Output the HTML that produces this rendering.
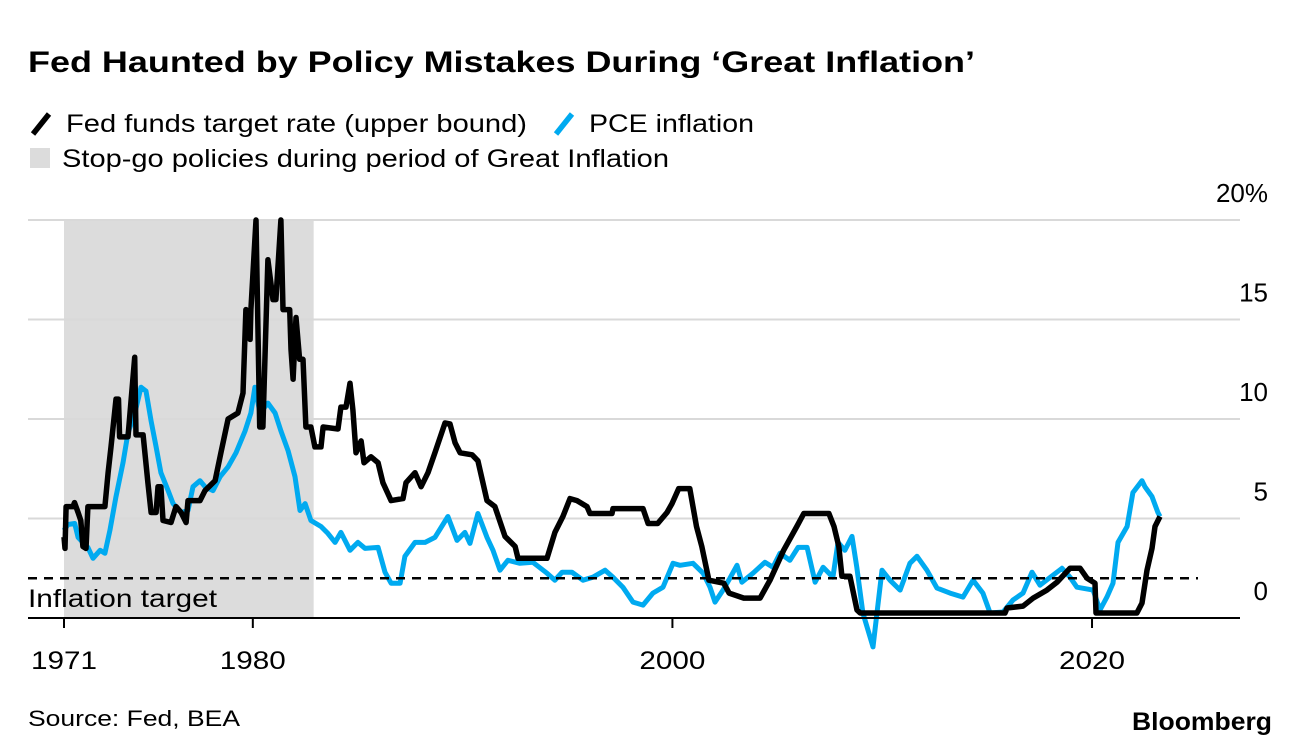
<!DOCTYPE html>
<html><head><meta charset="utf-8"><style>
body{margin:0;background:#fff;width:1296px;height:754px;overflow:hidden;font-family:"Liberation Sans",sans-serif;}
svg{position:absolute;left:0;top:0}
</style></head><body>
<svg width="1296" height="754">
<text x="28" y="72" font-size="30" font-weight="bold" fill="#000" textLength="947" lengthAdjust="spacingAndGlyphs">Fed Haunted by Policy Mistakes During ‘Great Inflation’</text>
<g><line x1="33" y1="134" x2="49" y2="114" stroke="#000" stroke-width="5.5"/><text x="66" y="132" font-size="25" textLength="461" lengthAdjust="spacingAndGlyphs">Fed funds target rate (upper bound)</text></g>
<g><line x1="556" y1="134" x2="572" y2="114" stroke="#00aaf0" stroke-width="5.5"/><text x="589" y="132" font-size="25" textLength="165" lengthAdjust="spacingAndGlyphs">PCE inflation</text></g>
<g><rect x="30" y="148" width="20" height="20" fill="#dcdcdc"/><text x="62" y="167" font-size="25" textLength="607" lengthAdjust="spacingAndGlyphs">Stop-go policies during period of Great Inflation</text></g>
<g id="plot"></g>
<text x="28" y="726" font-size="22" textLength="212" lengthAdjust="spacingAndGlyphs">Source: Fed, BEA</text>
<text x="1132" y="730" font-size="25" font-weight="bold" textLength="140" lengthAdjust="spacingAndGlyphs">Bloomberg</text>
</svg>
<script>
const fedYears=[1971.0,1971.05,1971.1,1971.43,1971.5,1971.67,1971.8,1971.9,1972.05,1972.14,1972.95,1973.1,1973.24,1973.48,1973.6,1973.65,1974.05,1974.37,1974.43,1974.77,1975.0,1975.15,1975.39,1975.48,1975.62,1975.72,1976.1,1976.34,1976.58,1976.82,1976.91,1977.48,1977.72,1978.2,1978.48,1978.82,1979.29,1979.53,1979.67,1979.87,1979.91,1980.15,1980.33,1980.48,1980.72,1980.96,1981.1,1981.34,1981.44,1981.76,1981.82,1981.92,1982.06,1982.23,1982.39,1982.53,1982.77,1982.96,1983.25,1983.35,1984.06,1984.2,1984.44,1984.63,1984.77,1984.92,1985.16,1985.3,1985.63,1985.97,1986.2,1986.59,1987.16,1987.3,1987.73,1988.02,1988.35,1988.68,1989.16,1989.4,1989.64,1989.88,1990.45,1990.73,1991.16,1991.54,1992.02,1992.5,1992.64,1994.02,1994.4,1994.78,1995.12,1995.45,1995.93,1996.07,1997.12,1997.17,1998.6,1998.84,1999.3,1999.74,1999.98,2000.3,2000.83,2001.15,2001.4,2001.74,2002.45,2002.7,2003.4,2004.18,2004.65,2005.3,2005.93,2006.26,2007.46,2007.7,2007.93,2008.08,2008.46,2008.8,2008.95,2015.85,2015.95,2016.71,2017.19,2017.85,2018.33,2018.95,2019.43,2019.76,2020.14,2020.19,2022.14,2022.38,2022.62,2022.86,2023.0,2023.24];
const fedValues=[4.07,3.5,5.6,5.6,5.8,5.3,4.9,3.6,3.5,5.6,5.6,7.3,8.6,11.0,11.0,9.1,9.1,13.1,9.2,9.2,6.8,5.3,5.3,6.6,6.6,4.9,4.8,5.6,5.3,4.8,5.9,5.9,6.4,6.9,8.3,10.0,10.3,11.3,15.5,14.0,15.5,20.0,9.6,9.6,18.0,16.0,16.0,20.0,15.5,15.5,13.5,12.0,15.1,13.0,13.0,9.6,9.6,8.6,8.6,9.6,9.5,10.6,10.6,11.8,10.45,8.3,8.9,7.8,8.1,7.8,6.8,5.9,6.0,6.8,7.3,6.6,7.3,8.3,9.8,9.75,8.8,8.3,8.2,7.9,5.9,5.6,4.1,3.6,3.0,3.0,4.3,5.1,6.0,5.9,5.6,5.25,5.25,5.5,5.5,4.75,4.75,5.3,5.75,6.5,6.5,4.6,3.6,1.9,1.75,1.25,1.0,1.0,1.9,3.4,4.6,5.25,5.25,4.6,3.6,2.1,2.1,0.4,0.25,0.25,0.5,0.6,1.0,1.4,1.8,2.5,2.5,2.0,1.75,0.25,0.25,0.75,2.4,3.5,4.6,5.1];
const pceYears=[1971.0,1971.19,1971.51,1971.67,1971.9,1972.14,1972.38,1972.72,1972.95,1973.19,1973.48,1973.81,1974.05,1974.38,1974.67,1974.91,1975.15,1975.39,1975.62,1975.96,1976.2,1976.58,1976.91,1977.15,1977.48,1977.72,1978.1,1978.44,1978.82,1979.2,1979.63,1979.91,1980.1,1980.34,1980.72,1981.06,1981.34,1981.68,1982.01,1982.25,1982.49,1982.77,1983.25,1983.58,1983.92,1984.2,1984.63,1985.01,1985.35,1985.97,1986.3,1986.59,1987.02,1987.25,1987.73,1988.21,1988.68,1989.3,1989.73,1990.11,1990.35,1990.73,1991.16,1991.45,1991.78,1992.16,1992.73,1993.35,1994.02,1994.4,1994.74,1995.21,1995.74,1996.21,1996.79,1997.17,1997.64,1998.12,1998.6,1999.07,1999.55,2000.03,2000.36,2000.98,2001.46,2001.79,2002.03,2002.41,2002.74,2003.08,2003.31,2003.84,2004.41,2004.79,2005.13,2005.6,2005.99,2006.42,2006.8,2007.18,2007.65,2007.89,2008.22,2008.56,2008.79,2009.08,2009.56,2009.99,2010.37,2010.85,2011.32,2011.66,2012.13,2012.61,2013.23,2013.85,2014.33,2014.8,2015.14,2015.76,2016.23,2016.71,2017.14,2017.52,2018.14,2018.57,2018.95,2019.28,2020.05,2020.38,2020.71,2021.0,2021.24,2021.67,2021.95,2022.38,2022.52,2022.86,2023.14,2023.24];
const pceValues=[4.4,4.7,4.75,4.05,3.8,3.55,3.0,3.4,3.25,4.4,6.1,7.8,9.3,10.3,11.6,11.4,9.9,8.6,7.3,6.4,5.75,5.3,5.4,6.6,6.9,6.6,6.4,7.1,7.6,8.3,9.4,10.3,11.6,10.3,10.8,10.3,9.4,8.4,7.1,5.4,5.75,4.9,4.6,4.25,3.8,4.3,3.4,3.8,3.5,3.55,2.3,1.75,1.75,3.1,3.8,3.8,4.05,5.1,3.9,4.3,3.75,5.25,4.05,3.4,2.4,2.9,2.75,2.8,2.25,1.9,2.3,2.3,1.9,2.05,2.4,2.05,1.55,0.8,0.65,1.25,1.55,2.75,2.65,2.75,2.25,1.55,0.8,1.4,2.0,2.65,1.8,2.25,2.8,2.55,3.25,2.9,3.55,3.55,1.8,2.55,2.05,3.8,3.4,4.1,2.55,0.25,-1.45,2.4,1.9,1.4,2.75,3.1,2.4,1.5,1.25,1.05,1.9,1.25,0.25,0.3,0.9,1.25,2.3,1.65,2.15,2.5,2.05,1.55,1.4,0.4,1.05,1.75,3.8,4.6,6.3,6.9,6.6,6.1,5.3,5.1];
const yTicks=[0,5,10,15,20];
const yTickLabels=["0","5","10","15","20%"];
const xTicks=[1971,1980,2000,2020];
const shadeRange=[1971,1982.9];
const targetRate=[2];

const NS="http://www.w3.org/2000/svg";
const X=y=>64+(y-1971)*20.98;
const Y=v=>618-v*19.9;
const plot=document.getElementById('plot');
function mk(tag,attrs,parent){const e=document.createElementNS(NS,tag);for(const k in attrs)e.setAttribute(k,attrs[k]);(parent||plot).appendChild(e);return e;}
const sh=mk('rect',{x:X(shadeRange[0]),y:Y(20),width:X(shadeRange[1])-X(shadeRange[0]),height:Y(0)-Y(20),fill:'#dcdcdc'});


yTicks.forEach((t,i)=>{
  if(t>0){const g=mk('line',{x1:28,x2:1240,y1:Y(t),y2:Y(t),stroke:'#d9d9d9','stroke-width':2});
  
  }
  const l=mk('text',{x:1268,y:Y(t)-18,'font-size':26,'text-anchor':'end'});l.textContent=yTickLabels[i];
  
  
});
const it=mk('text',{x:28,y:607,'font-size':25,textLength:189,lengthAdjust:'spacingAndGlyphs'});it.textContent='Inflation target';


function pts(xs,vs){return xs.map((y,i)=>X(y).toFixed(1)+','+Y(vs[i]).toFixed(1)).join(' ');}
const pl=mk('polyline',{points:pts(pceYears,pceValues),fill:'none',stroke:'#00aaf0','stroke-width':5,'stroke-linejoin':'round'});


const fl=mk('polyline',{points:pts(fedYears,fedValues),fill:'none',stroke:'#000','stroke-width':5.5,'stroke-linejoin':'round'});


const dl=mk('line',{x1:28,x2:1198,y1:Y(targetRate[0]),y2:Y(targetRate[0]),stroke:'#000','stroke-width':2.5,'stroke-dasharray':'9,7'});


const ax=mk('line',{x1:28,x2:1240,y1:618,y2:618,stroke:'#000','stroke-width':2});


xTicks.forEach(t=>{
  const tk=mk('line',{x1:X(t),x2:X(t),y1:618,y2:628,stroke:'#000','stroke-width':2});
  
  
  const l=mk('text',{x:X(t),y:669,'font-size':25,'text-anchor':'middle',textLength:66,lengthAdjust:'spacingAndGlyphs'});l.textContent=t;
  
  
});
</script>
</body></html>
